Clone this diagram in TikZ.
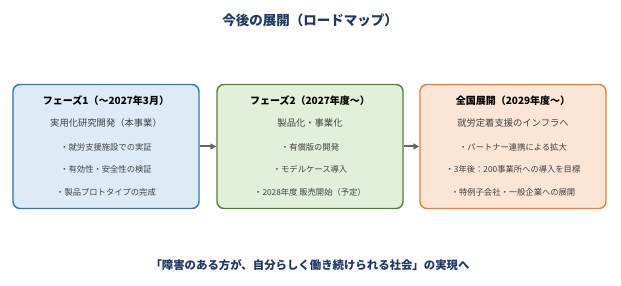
\documentclass[tikz,border=0pt]{standalone}
\usepackage{fontspec}
\setmainfont{Noto Sans CJK JP}
\usetikzlibrary{arrows.meta, positioning}
\definecolor{navy}{HTML}{1F3864}
\definecolor{bluebd}{HTML}{2E75B6}
\definecolor{bluefl}{HTML}{DEEBF7}
\definecolor{greenbd}{HTML}{548235}
\definecolor{greenfl}{HTML}{E2F0D9}
\definecolor{orangebd}{HTML}{ED7D31}
\definecolor{orangefl}{HTML}{FBE5D6}
\definecolor{txt}{HTML}{404040}

\begin{document}
\begin{tikzpicture}[x=1pt,y=-1pt,
  phase/.style={rectangle,rounded corners=7pt,line width=1.4pt, minimum width=186pt,minimum height=124pt,inner sep=0pt},
  head/.style={font=\bfseries\fontsize{10}{12}\selectfont,text=black},
  sub/.style={font=\fontsize{9.3}{11}\selectfont,text=txt},
  item/.style={font=\fontsize{8.3}{10}\selectfont,text=txt},
  arr/.style={-{Triangle[length=6pt,width=6pt]},line width=2pt,draw=gray!80!black}
]
  \useasboundingbox (0,0) rectangle (621,286);
  \node[font=\bfseries\fontsize{13.5}{15}\selectfont,text=navy](ttl) at (310,20) {今後の展開（ロードマップ）};
  % phase boxes
  \node[phase,draw=bluebd,fill=bluefl]    (ph1) at (106,146.5) {};
  \node[phase,draw=greenbd,fill=greenfl]  (ph2) at (310,146.5) {};
  \node[phase,draw=orangebd,fill=orangefl](ph3) at (513,146.5) {};
  % phase 1
  \node[head](h1) at (106,101) {フェーズ1（～2027年3月）};
  \node[sub] (s1) at (106,123) {実用化研究開発（本事業）};
  \node[item](a1) at (106,147) {・就労支援施設での実証};
  \node[item](b1) at (106,169) {・有効性・安全性の検証};
  \node[item](c1) at (106,192) {・製品プロトタイプの完成};
  % phase 2
  \node[head](h2) at (310,101) {フェーズ2（2027年度～）};
  \node[sub] (s2) at (310,123) {製品化・事業化};
  \node[item](a2) at (310,147) {・有償版の開発};
  \node[item](b2) at (310,169) {・モデルケース導入};
  \node[item](c2) at (310,192) {・2028年度 販売開始（予定）};
  % phase 3
  \node[head](h3) at (513,101) {全国展開（2029年度～）};
  \node[sub] (s3) at (513,123) {就労定着支援のインフラへ};
  \node[item](a3) at (513,147) {・パートナー連携による拡大};
  \node[item](b3) at (513,169) {・3年後：200事業所への導入を目標};
  \node[item](c3) at (513,192) {・特例子会社・一般企業への展開};
  \draw[arr](ph1)--(ph2); \draw[arr](ph2)--(ph3);
  \node[font=\bfseries\fontsize{11.4}{13}\selectfont,text=navy](goal) at (310,265) {「障害のある方が、自分らしく働き続けられる社会」の実現へ};
\end{tikzpicture}
\end{document}
